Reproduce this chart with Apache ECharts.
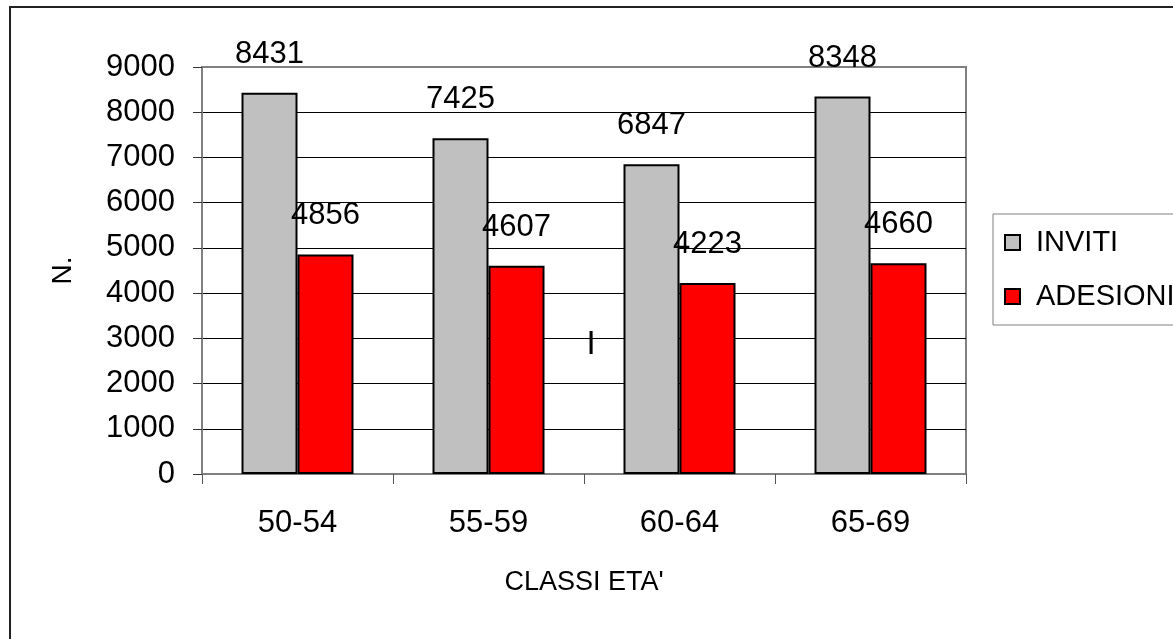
<!DOCTYPE html>
<html>
<head>
<meta charset="utf-8">
<script src="https://cdn.jsdelivr.net/npm/echarts@6/dist/echarts.min.js"></script>
<style>
html,body{margin:0;padding:0;background:#fff;}
#chart{width:1173px;height:639px;}
</style>
</head>
<body>
<div id="chart"></div>
<script>
const categories = ['50-54', '55-59', '60-64', '65-69'];
const invitiValues = [8431, 7425, 6847, 8348];
const adesioniValues = [4856, 4607, 4223, 4660];
const seriesNames = ['INVITI', 'ADESIONI'];
const xAxisTitle = "CLASSI ETA'";
const yAxisTitle = 'N.';
const strayMark = 'I';

const FONT = "'Liberation Sans', Arial, sans-serif";
const chart = echarts.init(document.getElementById('chart'), null, {renderer: 'canvas'});

const labelStyle = {
  show: true, position: 'top', distance: 23,
  color: '#000', fontSize: 31, fontFamily: FONT
};

chart.setOption({
  backgroundColor: '#fff',
  animation: false,
  grid: {
    left: 202, top: 67, right: 207, bottom: 165,
    show: true, borderColor: '#808080', borderWidth: 2, backgroundColor: '#fff',
    containLabel: false, outerBoundsMode: 'none'
  },
  legend: {
    orient: 'vertical',
    left: 993, top: 214,
    padding: [14, 5, 14, 11],
    borderColor: '#808080', borderWidth: 1,
    itemWidth: 37, itemHeight: 15, itemGap: 25,
    symbolKeepAspect: true,
    icon: 'path://M0,0H10V10H0Z',
    textStyle: {color: '#000', fontSize: 29, fontFamily: FONT},
    data: seriesNames
  },
  xAxis: {
    type: 'category',
    data: categories,
    name: xAxisTitle,
    nameLocation: 'middle',
    nameGap: 95,
    nameTextStyle: {color: '#000', fontSize: 27, fontFamily: FONT},
    axisLine: {lineStyle: {color: '#808080', width: 2}},
    axisTick: {show: true, length: 10, interval: 0, lineStyle: {color: '#555', width: 1}},
    axisLabel: {color: '#000', fontSize: 31, fontFamily: FONT, margin: 34, interval: 0},
    splitLine: {show: false}
  },
  yAxis: {
    type: 'value',
    min: 0, max: 9000, interval: 1000,
    name: yAxisTitle,
    nameLocation: 'middle',
    nameGap: 125,
    nameRotate: 90,
    nameTextStyle: {color: '#000', fontSize: 28, fontFamily: FONT},
    axisLine: {show: true, lineStyle: {color: '#808080', width: 2}},
    axisTick: {show: true, length: 9, lineStyle: {color: '#333', width: 1}},
    axisLabel: {color: '#000', fontSize: 31, fontFamily: FONT, margin: 27, formatter: function (v) { return String(v); }},
    splitLine: {show: true, showMinLine: false, showMaxLine: false, lineStyle: {color: '#000', width: 1}}
  },
  series: [
    {
      name: seriesNames[0], type: 'bar', data: invitiValues,
      barWidth: 56, barGap: '0%',
      itemStyle: {color: '#c0c0c0', borderColor: '#000', borderWidth: 2},
      label: labelStyle
    },
    {
      name: seriesNames[1], type: 'bar', data: adesioniValues,
      barWidth: 56, barGap: '0%',
      itemStyle: {color: '#ff0000', borderColor: '#000', borderWidth: 2},
      label: labelStyle
    }
  ],
  graphic: [
    {
      type: 'rect', silent: true, z: 100,
      shape: {x: 10, y: 7, width: 1300, height: 800},
      style: {fill: 'none', stroke: '#222', lineWidth: 2}
    },
    {
      type: 'text', silent: true, z: 100,
      x: 591, y: 345,
      style: {text: strayMark, fill: '#000', fontSize: 33, fontFamily: FONT, align: 'center', verticalAlign: 'middle'}
    }
  ]
});
</script>
</body>
</html>
